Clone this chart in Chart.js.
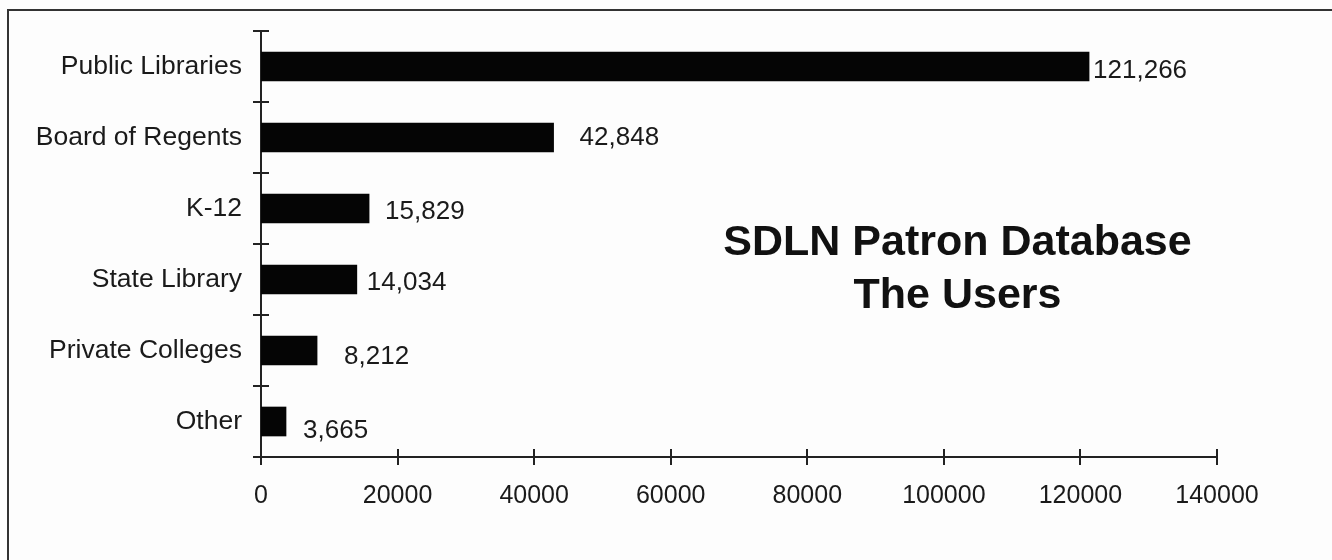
<!DOCTYPE html>
<html>
<head>
<meta charset="utf-8">
<title>SDLN Patron Database - The Users</title>
<script src="https://cdn.jsdelivr.net/npm/chart.js@4.4.1/dist/chart.umd.min.js"></script>
<style>
  html, body { margin: 0; padding: 0; background: #fdfdfd; overflow: hidden; }
  #wrap { position: relative; width: 1332px; height: 560px; }
  #frame { position: absolute; left: 7px; top: 9px; width: 1400px; height: 600px;
           border-left: 2px solid #333; border-top: 2px solid #333; }
  #usersChart { position: absolute; left: 0; top: 0; }
</style>
</head>
<body>
<div id="wrap">
  <div id="frame"></div>
  <canvas id="usersChart" width="1332" height="560"></canvas>
</div>
<script>
var categories = ['Public Libraries', 'Board of Regents', 'K-12', 'State Library', 'Private Colleges', 'Other'];
var users = [121266, 42848, 15829, 14034, 8212, 3665];
var xTicks = [0, 20000, 40000, 60000, 80000, 100000, 120000, 140000];
var titleLines = ['SDLN Patron Database', 'The Users'];

document.addEventListener("DOMContentLoaded", function() {
    var ctx = document.getElementById('usersChart').getContext('2d');
    var textColor = '#1a1a1a';
    var axisColor = '#222';

    // value labels sit beside each bar, hand-nudged like the original
    var valueLabels = {
        id: 'valueLabels',
        afterDatasetsDraw: function(chart, args, opts) {
            var c = chart.ctx;
            var meta = chart.getDatasetMeta(0);
            c.save();
            c.font = opts.font;
            c.fillStyle = opts.color;
            c.textAlign = 'left';
            c.textBaseline = 'middle';
            meta.data.forEach(function(bar, i) {
                var n = opts.nudge[i] || [8, 0];
                c.fillText(users[i].toLocaleString('en-US'), bar.x + n[0], bar.y + n[1]);
            });
            c.restore();
        }
    };

    // tick marks that cross both axis lines
    var crossTicks = {
        id: 'crossTicks',
        afterDraw: function(chart, args, opts) {
            var c = chart.ctx;
            var x = chart.scales.x, y = chart.scales.y;
            var len = opts.length;
            c.save();
            c.strokeStyle = opts.color;
            c.lineWidth = opts.width;
            c.beginPath();
            x.ticks.forEach(function(t) {
                var px = Math.round(x.getPixelForValue(t.value));
                c.moveTo(px, y.bottom - len);
                c.lineTo(px, y.bottom + len);
            });
            var step = (y.bottom - y.top) / categories.length;
            for (var i = 0; i <= categories.length; i++) {
                var py = Math.round(y.top + i * step);
                c.moveTo(x.left - len, py);
                c.lineTo(x.left + len, py);
            }
            c.stroke();
            c.restore();
        }
    };

    var insideTitle = {
        id: 'insideTitle',
        afterDraw: function(chart, args, opts) {
            var c = chart.ctx;
            var area = chart.chartArea;
            var cx = chart.scales.x.getPixelForValue(opts.xValue);
            c.save();
            c.font = opts.font;
            c.fillStyle = opts.color;
            c.textAlign = 'center';
            c.textBaseline = 'middle';
            titleLines.forEach(function(line, i) {
                c.fillText(line, cx, area.top + area.height * opts.rows[i]);
            });
            c.restore();
        }
    };

    var usersChart = new Chart(ctx, {
        type: 'bar',
        data: {
            labels: categories,
            datasets: [{
                label: 'Users',
                data: users,
                backgroundColor: '#050505',
                borderWidth: 0,
                barThickness: 29
            }]
        },
        plugins: [valueLabels, crossTicks, insideTitle],
        options: {
            indexAxis: 'y',
            responsive: false,
            animation: false,
            devicePixelRatio: 1,
            layout: { padding: { top: 31, right: 115, bottom: 0, left: 0 } },
            scales: {
                x: {
                    min: 0,
                    max: 140000,
                    afterBuildTicks: function(scale) {
                        scale.ticks = xTicks.map(function(v) { return { value: v }; });
                    },
                    afterFit: function(scale) { scale.height = 103; },
                    grid: { display: false, drawTicks: false },
                    border: { display: true, color: axisColor, width: 2 },
                    ticks: {
                        padding: 24,
                        color: textColor,
                        font: { family: '"Liberation Sans", Arial, sans-serif', size: 25 },
                        callback: function(value) { return String(value); }
                    }
                },
                y: {
                    afterFit: function(scale) {
                        scale.width = 261;
                        scale.paddingTop = 0;
                        scale.paddingBottom = 0;
                    },
                    grid: { display: false, drawTicks: false },
                    border: { display: true, color: axisColor, width: 2 },
                    ticks: {
                        padding: 19,
                        color: textColor,
                        font: { family: '"Liberation Sans", Arial, sans-serif', size: 26.5 }
                    }
                }
            },
            plugins: {
                legend: { display: false },
                tooltip: { enabled: false },
                valueLabels: {
                    font: '26px "Liberation Sans", Arial, sans-serif',
                    color: textColor,
                    nudge: [[4, 4], [26, 0], [16, 3], [10, 3], [27, 6], [17, 9]]
                },
                crossTicks: { color: axisColor, width: 2, length: 8 },
                insideTitle: {
                    font: 'bold 43px "Liberation Sans", Arial, sans-serif',
                    color: '#111',
                    xValue: 102000,
                    rows: [0.498, 0.623]
                }
            }
        }
    });
});
</script>
</body>
</html>
